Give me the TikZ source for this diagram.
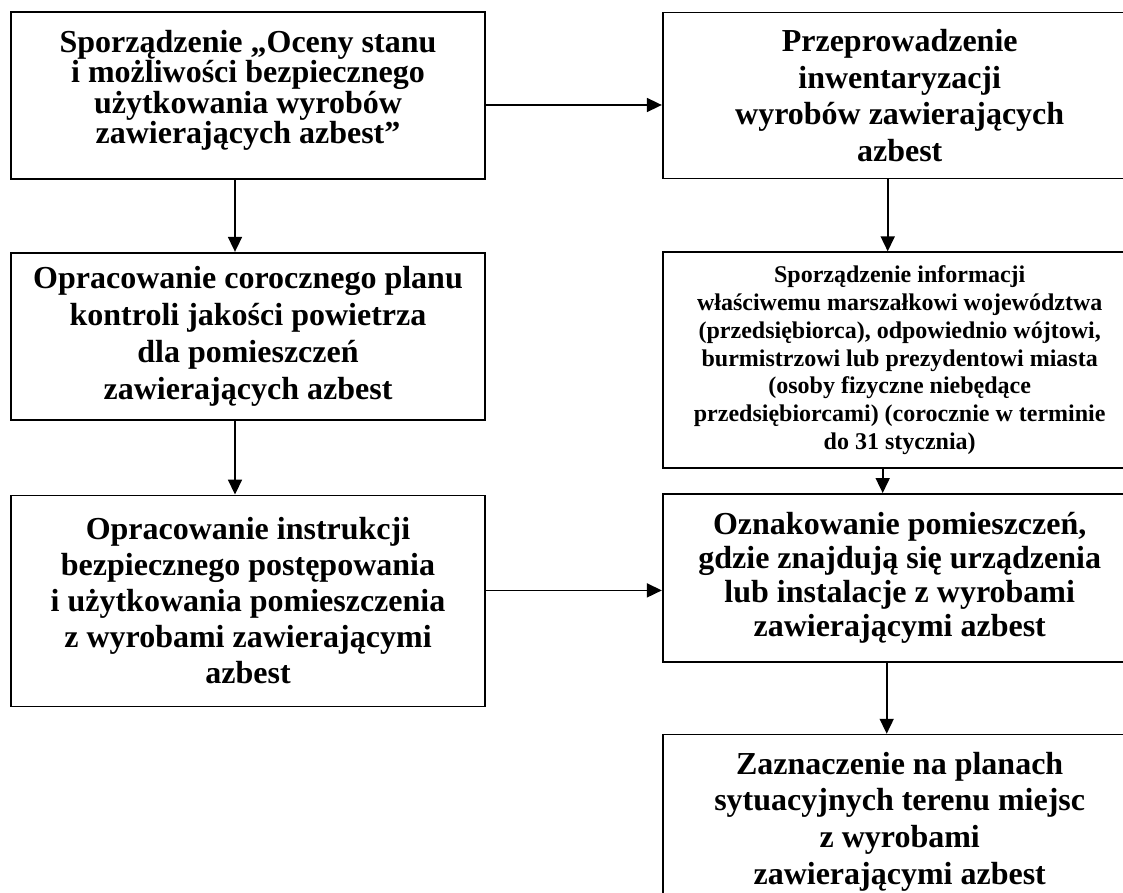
\documentclass[tikz,border=0pt]{standalone}
\usepackage{fontspec}
\setmainfont{Liberation Serif}
\usetikzlibrary{arrows.meta,positioning}
\tikzset{
  stepbox/.style={draw=black,line width=1.7pt,minimum width=474pt,inner sep=0pt,
    align=center,font=\bfseries\fontsize{32}{#1}\selectfont},
  stepbox/.default=36,
  smallbox/.style={stepbox,font=\bfseries\fontsize{24}{27.7}\selectfont},
  arrow/.style={-{Triangle[length=15pt,width=14pt]},line width=1.7pt}
}

\begin{document}
\begin{tikzpicture}[x=1pt,y=-1pt]
  \useasboundingbox (0,0) rectangle (1123,893);
  % left column
  \node[stepbox=27.7,minimum height=167pt] (a) at (248,95.5)
    {\parbox[c][130pt][t]{470pt}{\centering
      Sporządzenie „Oceny stanu\\ i możliwości bezpiecznego\\
      użytkowania wyrobów\\ zawierających azbest”}};
  \node[stepbox=37,minimum height=167pt,below=72pt of a] (b)
    {Opracowanie corocznego planu\\ kontroli jakości powietrza\\
     dla pomieszczeń\\ zawierających azbest};
  \node[stepbox=36,minimum height=211pt,below=74pt of b] (c)
    {Opracowanie instrukcji\\ bezpiecznego postępowania\\
     i użytkowania pomieszczenia\\ z wyrobami zawierającymi\\ azbest};
  % right column
  \node[stepbox=36.7,minimum height=166pt,right=176pt of a] (d)
    {Przeprowadzenie\\ inwentaryzacji\\ wyrobów zawierających\\ azbest};
  \node[smallbox,minimum height=216pt,below=72pt of d] (e)
    {\raisebox{-4pt}{\parbox{470pt}{\centering
     Sporządzenie informacji\\ właściwemu marszałkowi województwa\\
     (przedsiębiorca), odpowiednio wójtowi,\\ burmistrzowi lub prezydentowi miasta\\
     (osoby fizyczne niebędące\\ przedsiębiorcami) (corocznie w terminie\\
     do 31 stycznia)}}};
  \node[stepbox=34,minimum height=168pt,below=24pt of e] (f)
    {Oznakowanie pomieszczeń,\\ gdzie znajdują się urządzenia\\
     lub instalacje z wyrobami\\ zawierającymi azbest};
  \node[stepbox=36.7,minimum height=174pt,below=71pt of f] (g)
    {Zaznaczenie na planach\\ sytuacyjnych terenu miejsc\\
     z wyrobami\\ zawierającymi azbest};
  % connectors
  \coordinate (ad) at ([yshift=-9.5pt]a.east);
  \coordinate (cf) at ([yshift=10.5pt]c.east);
  \draw[arrow] ([xshift=-13pt]a.south) -- ([xshift=-13pt]b.north);
  \draw[arrow] ([xshift=-13pt]b.south) -- ([xshift=-13pt]c.north);
  \draw[arrow] (ad) -- (ad -| d.west);
  \draw[arrow] (cf) -- (cf -| f.west);
  \draw[arrow] ([xshift=-12pt]d.south) -- ([xshift=-12pt]e.north);
  \draw[arrow] ([xshift=-17pt]e.south) -- ([xshift=-17pt]f.north);
  \draw[arrow] ([xshift=-13pt]f.south) -- ([xshift=-13pt]g.north);
\end{tikzpicture}
\end{document}
